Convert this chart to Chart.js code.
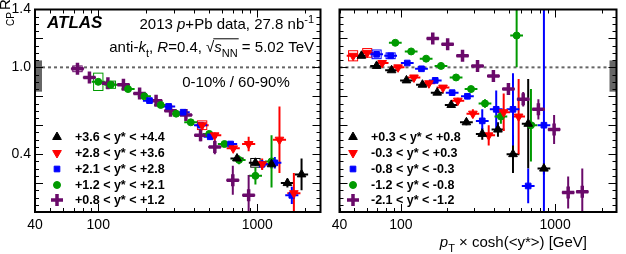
<!DOCTYPE html>
<html>
<head>
<meta charset="utf-8">
<script src="https://cdn.jsdelivr.net/npm/chart.js@4.4.1/dist/chart.umd.min.js"></script>
<style>
  html, body { margin: 0; padding: 0; background: #fff; }
  #wrap { position: relative; width: 626px; height: 254px; }
  #left { position: absolute; left: 0; top: 0; }
  #right { position: absolute; left: 330px; top: 0; }
</style>
</head>
<body>
<div id="wrap">
  <canvas id="left" width="330" height="254"></canvas>
  <canvas id="right" width="296" height="254"></canvas>
</div>
<script>
// axis ranges and labelled ticks
const xMin = 40, xMax = 2500;
const yMin = 0, yMax = 1.4;
const xTickLabels = [40, 100, 1000];
const yTickLabels = [0.4, 1.0, 1.4];
const normBand = [0.832, 1.048];   // grey box at R_CP = 1

// left panel: forward rapidity bins
const fwdLabels = ["+3.6 < y* < +4.4", "+2.8 < y* < +3.6", "+2.1 < y* < +2.8", "+1.2 < y* < +2.1", "+0.8 < y* < +1.2"];

const fwd1Pt  = [746, 974, 1230, 1548, 1900];
const fwd1Rcp = [0.37, 0.34, 0.33, 0.20, 0.26];
const fwd1Err = [0.02, 0.02, 0.03, 0.03, 0.11];
const fwd1Sys = [0, 0.03, 0, 0, 0];

const fwd2Pt  = [450, 540, 706, 883, 1074, 1380, 1700];
const fwd2Rcp = [0.60, 0.53, 0.44, 0.47, 0.33, 0.50, 0.13];
const fwd2Err = [0.02, 0.02, 0.02, 0.05, 0.04, 0.23, 0.14];
const fwd2Sys = [0.03, 0, 0, 0, 0, 0, 0];

const fwd3Pt  = [210, 277, 342, 440, 506, 680, 1074, 1290, 1650];
const fwd3Rcp = [0.77, 0.73, 0.69, 0.60, 0.52, 0.47, 0.33, 0.34, 0.115];
const fwd3Err = [0.01, 0.01, 0.01, 0.015, 0.02, 0.02, 0.03, 0.04, 0.06];
const fwd3Sys = [0, 0, 0, 0, 0, 0, 0, 0, 0];

const fwd4Pt  = [100, 120, 154, 195, 247, 309, 382, 499, 622, 768, 974, 1230];
const fwd4Rcp = [0.90, 0.88, 0.85, 0.80, 0.74, 0.68, 0.62, 0.54, 0.47, 0.36, 0.25, 0.35];
const fwd4Err = [0.01, 0.01, 0.01, 0.01, 0.01, 0.01, 0.01, 0.015, 0.02, 0.03, 0.06, 0.18];
const fwd4Sys = [0.06, 0.025, 0, 0, 0, 0, 0, 0, 0, 0, 0, 0];

const fwd5Pt  = [74, 88, 115, 144, 182, 231, 285, 356, 440, 541, 702, 883];
const fwd5Rcp = [0.99, 0.93, 0.89, 0.88, 0.82, 0.77, 0.70, 0.67, 0.53, 0.45, 0.22, 0.115];
const fwd5Err = [0.02, 0.02, 0.02, 0.02, 0.02, 0.02, 0.02, 0.02, 0.04, 0.05, 0.10, 0.14];
const fwd5Sys = [0.02, 0, 0, 0, 0, 0, 0, 0, 0, 0, 0, 0];

// right panel: central / backward rapidity bins
const bwdLabels = ["+0.3 < y* < +0.8", "-0.3 < y* < +0.3", "-0.8 < y* < -0.3", "-1.2 < y* < -0.8", "-2.1 < y* < -1.2"];

const bwd1Pt  = [55.5, 69.6, 87, 108.7, 138, 172, 212, 266, 337, 426, 533, 669, 846];
const bwd1Rcp = [1.08, 1.01, 0.98, 0.91, 0.88, 0.825, 0.74, 0.62, 0.54, 0.57, 0.40, 0.61, 0.30];
const bwd1Err = [0.01, 0.01, 0.01, 0.01, 0.01, 0.015, 0.015, 0.02, 0.04, 0.05, 0.13, 0.31, 0.04];
const bwd1Sys = [0, 0, 0, 0, 0, 0, 0, 0, 0, 0, 0, 0, 0];

const bwd2Pt  = [49, 60.5, 75.6, 95.9, 121.6, 152, 187.6, 234, 293, 371, 464, 580];
const bwd2Rcp = [1.08, 1.10, 1.03, 1.00, 0.93, 0.89, 0.86, 0.77, 0.68, 0.53, 0.69, 0.66];
const bwd2Err = [0.01, 0.01, 0.01, 0.01, 0.01, 0.01, 0.015, 0.02, 0.03, 0.07, 0.13, 0.26];
const bwd2Sys = [0.035, 0.03, 0, 0, 0, 0, 0, 0, 0, 0, 0, 0];

const bwd3Pt  = [69.6, 85.8, 110, 136, 167, 215, 270, 337, 415, 533, 669, 846];
const bwd3Rcp = [1.09, 1.08, 1.03, 0.99, 0.91, 0.825, 0.80, 0.63, 0.71, 0.71, 0.18, 0.60];
const bwd3Err = [0.01, 0.01, 0.01, 0.01, 0.015, 0.015, 0.02, 0.08, 0.13, 0.25, 0.12, 0.9];
const bwd3Sys = [0.03, 0.02, 0, 0, 0, 0, 0, 0, 0, 0, 0, 0];

const bwd4Pt  = [92, 116.6, 145.8, 182, 228, 285, 351, 445, 563, 697];
const bwd4Rcp = [1.17, 1.11, 1.06, 1.01, 0.93, 0.85, 0.75, 0.66, 1.22, 0.60];
const bwd4Err = [0.02, 0.01, 0.01, 0.01, 0.015, 0.02, 0.03, 0.05, 0.22, 0.25];
const bwd4Sys = [0, 0, 0, 0, 0, 0, 0, 0, 0, 0];

const bwd5Pt  = [161, 201, 251, 314, 398, 498, 621, 779, 985, 1215, 1500];
const bwd5Rcp = [1.20, 1.16, 1.08, 1.01, 0.94, 0.85, 0.78, 0.71, 0.57, 0.135, 0.14];
const bwd5Err = [0.02, 0.02, 0.02, 0.02, 0.02, 0.025, 0.05, 0.07, 0.10, 0.11, 0.16];
const bwd5Sys = [0, 0, 0, 0, 0, 0, 0, 0, 0, 0, 0];

// marker look per rapidity slot (same in both panels)
const styles = [
  { color: "#000000", pointStyle: "triangle", radius: 5, rotation: 0, borderWidth: 1 },
  { color: "#ff0000", pointStyle: "triangle", radius: 5, rotation: 180, borderWidth: 1 },
  { color: "#0000ff", pointStyle: "rect", radius: 4, rotation: 0, borderWidth: 1 },
  { color: "#009a00", pointStyle: "circle", radius: 3.5, rotation: 0, borderWidth: 1 },
  { color: "#6a0a6a", pointStyle: "cross", radius: 6, rotation: 0, borderWidth: 3.5 },
];

const FONT = "'Liberation Sans', Arial, sans-serif";
const binHalf = 1.1;   // horizontal bar half width (multiplicative)
const boxHalf = 1.07;  // systematic box half width

Chart.defaults.font.family = FONT;
Chart.defaults.color = "#000";

function makeDataset(label, pts, rcp, err, sys, st) {
  return {
    label: label,
    data: pts.map((x, i) => ({ x: x, y: rcp[i] })),
    yerr: err,
    sys: sys,
    borderColor: st.color,
    backgroundColor: st.color,
    pointStyle: st.pointStyle,
    pointRadius: st.radius,
    pointRotation: st.rotation,
    pointBorderWidth: st.borderWidth,
    showLine: false,
  };
}

function drawRuns(ctx, runs, x, y, align, size) {
  const fontFor = k => {
    if (k === "i") return "italic " + size + "px " + FONT;
    if (k === "sub" || k === "sup") return Math.round(size * 0.7) + "px " + FONT;
    return size + "px " + FONT;
  };
  let w = 0;
  runs.forEach(r => { ctx.font = fontFor(r[1]); w += ctx.measureText(r[0]).width; });
  let cx = align === "right" ? x - w : align === "center" ? x - w / 2 : x;
  let over = null;
  ctx.textAlign = "left";
  ctx.textBaseline = "alphabetic";
  runs.forEach(r => {
    ctx.font = fontFor(r[1]);
    const dy = r[1] === "sub" ? size * 0.3 : r[1] === "sup" ? -size * 0.4 : 0;
    ctx.fillText(r[0], cx, y + dy);
    const rw = ctx.measureText(r[0]).width;
    if (r[2]) { if (!over) over = { x0: cx }; over.x1 = cx + rw; }
    cx += rw;
  });
  if (over) {
    ctx.lineWidth = 1;
    ctx.beginPath();
    ctx.moveTo(over.x0 - 1, y - size * 0.88);
    ctx.lineTo(over.x1 + 1, y - size * 0.88);
    ctx.stroke();
  }
}

const rootStyle = {
  id: "rootStyle",
  beforeDatasetsDraw(chart, args, opts) {
    const { ctx, chartArea: a, scales: { x, y } } = chart;
    ctx.save();
    ctx.beginPath();
    ctx.rect(a.left, a.top, a.right - a.left, a.bottom - a.top);
    ctx.clip();

    // normalisation box
    ctx.fillStyle = "#666";
    const by0 = y.getPixelForValue(normBand[1]), by1 = y.getPixelForValue(normBand[0]);
    if (opts.side === "left") ctx.fillRect(a.left, by0, 7, by1 - by0);
    else ctx.fillRect(a.right - 7, by0, 7, by1 - by0);

    // unity line
    ctx.strokeStyle = "#666";
    ctx.lineWidth = 2;
    ctx.setLineDash([3, 3]);
    ctx.beginPath();
    ctx.moveTo(a.left + (opts.side === "left" ? 7 : 0), y.getPixelForValue(1));
    ctx.lineTo(a.right - (opts.side === "left" ? 0 : 7), y.getPixelForValue(1));
    ctx.stroke();
    ctx.setLineDash([]);

    // error bars and systematic boxes
    chart.data.datasets.forEach(ds => {
      ctx.strokeStyle = ds.borderColor;
      ds.data.forEach((p, i) => {
        const px = x.getPixelForValue(p.x), py = y.getPixelForValue(p.y);
        const s = ds.sys[i];
        if (s) {
          ctx.lineWidth = 1;
          const x0 = x.getPixelForValue(p.x / boxHalf), x1 = x.getPixelForValue(p.x * boxHalf);
          const y0 = y.getPixelForValue(p.y + s), y1 = y.getPixelForValue(p.y - s);
          ctx.strokeRect(x0, y0, x1 - x0, y1 - y0);
        }
        ctx.lineWidth = 2;
        ctx.beginPath();
        ctx.moveTo(x.getPixelForValue(p.x / binHalf), py);
        ctx.lineTo(x.getPixelForValue(p.x * binHalf), py);
        const e = ds.yerr[i];
        ctx.moveTo(px, y.getPixelForValue(p.y - e));
        ctx.lineTo(px, y.getPixelForValue(p.y + e));
        ctx.stroke();
      });
    });
    ctx.restore();
  },
  afterDraw(chart, args, opts) {
    const { ctx, chartArea: a, scales: { x, y } } = chart;
    ctx.save();
    ctx.strokeStyle = "#000";
    ctx.fillStyle = "#000";

    // inward ticks
    ctx.lineWidth = 1;
    ctx.beginPath();
    for (let d = 10; d <= 1000; d *= 10) {
      for (let m = 1; m <= 9; m++) {
        const v = d * m;
        if (v < xMin || v > xMax) continue;
        const px = Math.round(x.getPixelForValue(v)) + 0.5;
        const len = m === 1 ? 8 : 4;
        ctx.moveTo(px, a.bottom); ctx.lineTo(px, a.bottom - len);
        ctx.moveTo(px, a.top); ctx.lineTo(px, a.top + len);
      }
    }
    for (let k = 0; k <= 28; k++) {
      const v = k * 0.05;
      const py = Math.round(y.getPixelForValue(v)) + 0.5;
      const len = k % 4 === 0 ? 8 : 4;
      ctx.moveTo(a.left, py); ctx.lineTo(a.left + len, py);
      ctx.moveTo(a.right, py); ctx.lineTo(a.right - len, py);
    }
    ctx.stroke();

    // frame
    ctx.lineWidth = 2;
    ctx.strokeRect(a.left, a.top, a.right - a.left, a.bottom - a.top);

    // legend
    const labels = chart.data.datasets.map(ds => ds.label);
    const rows = [137, 153, 169, 185, 200];
    chart.data.datasets.forEach((ds, i) => {
      ctx.fillStyle = ds.borderColor;
      ctx.strokeStyle = ds.borderColor;
      ctx.lineWidth = ds.pointBorderWidth;
      Chart.helpers.drawPoint(ctx, {
        pointStyle: ds.pointStyle, radius: ds.pointRadius, rotation: ds.pointRotation,
        borderWidth: ds.pointBorderWidth,
      }, opts.legendX, rows[i]);
      ctx.fillStyle = "#000";
      ctx.font = "bold 12.5px " + FONT;
      ctx.textAlign = "left";
      ctx.textBaseline = "middle";
      ctx.fillText(labels[i], opts.legendX + 18, rows[i] + 1);
    });

    ctx.fillStyle = "#000";
    ctx.strokeStyle = "#000";
    if (opts.side === "left") {
      ctx.font = "italic bold 17px " + FONT;
      ctx.textAlign = "left";
      ctx.textBaseline = "alphabetic";
      ctx.fillText("ATLAS", 47, 28);
      drawRuns(ctx, [["2013 ", "n"], ["p", "i"], ["+Pb data, 27.8 nb", "n"], ["-1", "sup"]], 314, 29, "right", 15);
      drawRuns(ctx, [["anti-", "n"], ["k", "i"], ["t", "sub"], [", ", "n"], ["R", "i"], ["=0.4, ", "n"],
        ["\u221A", "n"], ["s", "i", true], ["NN", "sub", true], [" = 5.02 TeV", "n"]], 314, 52, "right", 15);
      drawRuns(ctx, [["0-10% / 60-90%", "n"]], 236, 87, "center", 15);

      // y title
      ctx.save();
      ctx.translate(10, 10);
      ctx.rotate(-Math.PI / 2);
      ctx.font = "15px " + FONT;
      ctx.textAlign = "left";
      ctx.fillText("R", 0, 0);
      ctx.restore();
      ctx.save();
      ctx.translate(14, 26);
      ctx.rotate(-Math.PI / 2);
      ctx.font = "10px " + FONT;
      ctx.textAlign = "left";
      ctx.fillText("CP", 0, 0);
      ctx.restore();
    } else {
      drawRuns(ctx, [["p", "i"], ["T", "sub"], [" \u00D7 cosh(<y*>) [GeV]", "n"]], 257, 247, "right", 15);
    }
    ctx.restore();
  }
};

function fixAxis(size, horizontal) {
  return function (scale) {
    if (horizontal) scale.height = size; else scale.width = size;
    scale.paddingLeft = 0; scale.paddingRight = 0;
    scale.paddingTop = 0; scale.paddingBottom = 0;
  };
}

function makeChart(id, datasets, side) {
  const isLeft = side === "left";
  return new Chart(document.getElementById(id), {
    type: "scatter",
    data: { datasets: datasets },
    options: {
      responsive: false,
      animation: false,
      devicePixelRatio: 1,
      layout: { padding: { left: isLeft ? 0 : 2, right: 3, top: 5, bottom: 0 } },
      plugins: {
        legend: { display: false },
        tooltip: { enabled: false },
        rootStyle: { side: side, legendX: isLeft ? 57 : 23 },
      },
      scales: {
        x: {
          type: "logarithmic",
          min: xMin,
          max: xMax,
          grid: { display: false, drawTicks: false },
          border: { display: false },
          afterBuildTicks: s => { s.ticks = xTickLabels.map(v => ({ value: v })); },
          afterFit: fixAxis(42, true),
          ticks: {
            autoSkip: false, maxRotation: 0, padding: 5,
            font: { size: 14 }, color: "#000",
            callback: v => String(v),
          },
        },
        y: {
          type: "linear",
          min: yMin,
          max: yMax,
          display: isLeft,
          grid: { display: false, drawTicks: false },
          border: { display: false },
          afterBuildTicks: s => { s.ticks = yTickLabels.map(v => ({ value: v })); },
          afterFit: fixAxis(isLeft ? 35 : 0, false),
          ticks: {
            padding: 4, font: { size: 14 }, color: "#000",
            callback: v => Number(v).toFixed(1),
          },
        },
      },
    },
    plugins: [rootStyle],
  });
}

const fwdSets = [
  makeDataset(fwdLabels[0], fwd1Pt, fwd1Rcp, fwd1Err, fwd1Sys, styles[0]),
  makeDataset(fwdLabels[1], fwd2Pt, fwd2Rcp, fwd2Err, fwd2Sys, styles[1]),
  makeDataset(fwdLabels[2], fwd3Pt, fwd3Rcp, fwd3Err, fwd3Sys, styles[2]),
  makeDataset(fwdLabels[3], fwd4Pt, fwd4Rcp, fwd4Err, fwd4Sys, styles[3]),
  makeDataset(fwdLabels[4], fwd5Pt, fwd5Rcp, fwd5Err, fwd5Sys, styles[4]),
];
const bwdSets = [
  makeDataset(bwdLabels[0], bwd1Pt, bwd1Rcp, bwd1Err, bwd1Sys, styles[0]),
  makeDataset(bwdLabels[1], bwd2Pt, bwd2Rcp, bwd2Err, bwd2Sys, styles[1]),
  makeDataset(bwdLabels[2], bwd3Pt, bwd3Rcp, bwd3Err, bwd3Sys, styles[2]),
  makeDataset(bwdLabels[3], bwd4Pt, bwd4Rcp, bwd4Err, bwd4Sys, styles[3]),
  makeDataset(bwdLabels[4], bwd5Pt, bwd5Rcp, bwd5Err, bwd5Sys, styles[4]),
];

const leftChart = makeChart("left", fwdSets, "left");
const rightChart = makeChart("right", bwdSets, "right");
</script>
</body>
</html>
